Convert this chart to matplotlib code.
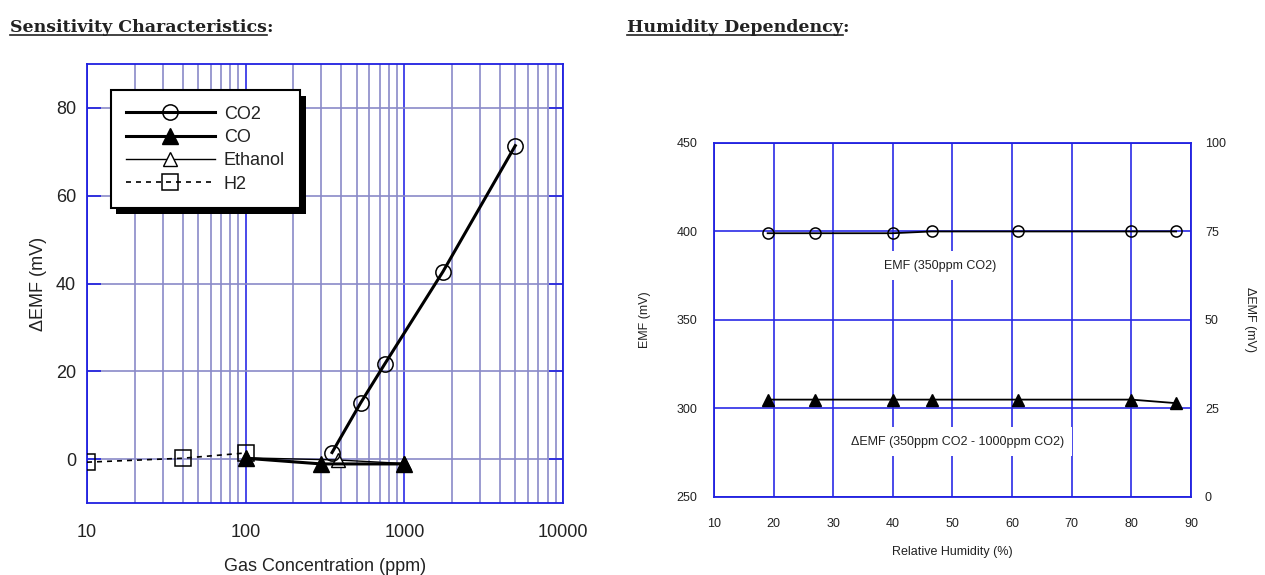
import matplotlib
matplotlib.use("Agg")
import matplotlib.pyplot as plt
import matplotlib.patheffects as pe
from matplotlib.lines import Line2D
from matplotlib.ticker import LogLocator, NullFormatter, FixedLocator

plt.rcParams['font.family'] = ['Liberation Sans', 'DejaVu Sans']

# Data
# ---------------------------------------------------------------
# Sensitivity characteristics (gas concentration in ppm, dEMF in mV)
co2_ppm = [350, 530, 750, 1750, 5000]
co2_emf = [1.5, 12.8, 21.6, 42.7, 71.4]
co_ppm = [100, 300, 1000]
co_emf = [0.2, -1.1, -1.1]
eth_ppm = [100, 380, 1000]
eth_emf = [0.3, -0.2, -1.0]
h2_ppm = [10, 40, 100]
h2_emf = [-0.7, 0.2, 1.4]

# Humidity dependency
rh = [19, 27, 40, 46.5, 61, 80, 87.5]
emf_350 = [399, 399, 399, 400, 400, 400, 400]
d_emf = [27.5, 27.5, 27.5, 27.5, 27.5, 27.5, 26.5]

left_yticks = [0, 20, 40, 60, 80]
left_xticks = [10, 100, 1000, 10000]
right_xticks = [10, 20, 30, 40, 50, 60, 70, 80, 90]
right_yticks = [250, 300, 350, 400, 450]
right_y2ticks = [0, 25, 50, 75, 100]

# Colours
frame_blue = '#2020e0'
grid_blue = '#2a2ae6'
grid_purple = '#8a8ac8'
txt = '#222222'

fig = plt.figure(figsize=(12.65, 5.75), dpi=100)

# Left chart: sensitivity characteristics
# ---------------------------------------------------------------
ax = fig.add_axes([0.0688, 0.1252, 0.3763, 0.7635])
ax.set_xscale('log')
ax.set_xlim(10, 10000)
ax.set_ylim(-10, 90)

ax.xaxis.set_major_locator(FixedLocator(left_xticks))
ax.xaxis.set_minor_locator(LogLocator(base=10, subs=range(2, 10)))
ax.xaxis.set_minor_formatter(NullFormatter())
ax.set_xticks(left_xticks)
ax.set_xticklabels([str(v) for v in left_xticks])
ax.set_yticks(left_yticks)
ax.set_yticklabels([str(v) for v in left_yticks])

ax.grid(True, which='major', axis='x', color=grid_blue, lw=1.2, zorder=0)
ax.grid(True, which='minor', axis='x', color=grid_purple, lw=1.2, zorder=0)
ax.grid(True, which='major', axis='y', color=grid_purple, lw=1.2, zorder=0)
ax.set_axisbelow(True)

ax.tick_params(axis='x', which='both', length=0, pad=15, labelsize=13, colors=txt)
ax.tick_params(axis='y', which='major', direction='in', length=10, width=1.2,
               color=frame_blue, left=True, right=True, labelsize=13,
               labelcolor=txt, pad=8)
for s in ax.spines.values():
    s.set_color(frame_blue)
    s.set_linewidth(1.3)

ax.plot(h2_ppm, h2_emf, color='k', lw=1.2, ls=(0, (3, 3)), marker='s', ms=11,
        mfc='none', mec='k', mew=1.1, label='H2', zorder=3)
ax.plot(eth_ppm, eth_emf, color='k', lw=1.0, marker='^', ms=10,
        mfc='white', mec='k', mew=1.0, label='Ethanol', zorder=3)
ax.plot(co_ppm, co_emf, color='k', lw=2.2, marker='^', ms=11,
        mfc='k', mec='k', label='CO', zorder=4)
ax.plot(co2_ppm, co2_emf, color='k', lw=2.2, marker='o', ms=11,
        mfc='none', mec='k', mew=1.1, label='CO2', zorder=5)

ax.set_xlabel('Gas Concentration (ppm)', fontsize=13, color=txt, labelpad=12)
ax.set_ylabel('\u0394EMF (mV)', fontsize=13, color=txt, labelpad=6)

handles, labels = ax.get_legend_handles_labels()
order = [3, 2, 1, 0]
leg = ax.legend([handles[i] for i in order], [labels[i] for i in order],
                loc='upper left', bbox_to_anchor=(0.05, 0.94), borderaxespad=0,
                fontsize=13, handlelength=4.9, handletextpad=0.5,
                labelspacing=0.35, borderpad=0.85, fancybox=False,
                framealpha=1, edgecolor='k')
leg.get_frame().set_linewidth(1.5)
leg.get_frame().set_path_effects([
    pe.SimplePatchShadow(offset=(4, -4), shadow_rgbFace='k', alpha=1),
    pe.Normal()])
for t in leg.get_texts():
    t.set_color(txt)

# Right chart: humidity dependency
# ---------------------------------------------------------------
ax2 = fig.add_axes([0.5644, 0.1357, 0.3771, 0.6157])
ax2.set_xlim(10, 90)
ax2.set_ylim(250, 450)
ax2.set_xticks(right_xticks)
ax2.set_yticks(right_yticks)
ax2.grid(True, color=grid_blue, lw=1.2, zorder=0)
ax2.set_axisbelow(True)
ax2.tick_params(length=0, labelsize=9, colors=txt)
ax2.tick_params(axis='x', pad=15)
ax2.tick_params(axis='y', pad=12)
for s in ax2.spines.values():
    s.set_color(frame_blue)
    s.set_linewidth(1.3)

ax2.plot(rh, emf_350, color='k', lw=1.3, marker='o', ms=8, mfc='none',
         mec='k', mew=1.1, zorder=4)
ax2.set_xlabel('Relative Humidity (%)', fontsize=9, color=txt, labelpad=12)
ax2.set_ylabel('EMF (mV)', fontsize=9, color=txt, labelpad=18)

ax3 = ax2.twinx()
ax3.set_ylim(0, 100)
ax3.set_yticks(right_y2ticks)
ax3.tick_params(length=0, labelsize=9, colors=txt, pad=10)
for s in ax3.spines.values():
    s.set_visible(False)
ax3.plot(rh, d_emf, color='k', lw=1.3, marker='^', ms=8, mfc='k', mec='k', zorder=4)
ax3.set_ylabel('\u0394EMF (mV)', fontsize=9, color=txt, rotation=270,
               labelpad=22)

ax2.text(47.9, 380.7, 'EMF (350ppm CO2)', fontsize=9, color=txt,
         ha='center', va='center', zorder=3,
         bbox=dict(facecolor='white', edgecolor='none', pad=6))
ax2.text(50.8, 281.2, '\u0394EMF (350ppm CO2 - 1000ppm CO2)', fontsize=9,
         color=txt, ha='center', va='center', zorder=3,
         bbox=dict(facecolor='white', edgecolor='none', pad=6))

# Section titles (underlined)
# ---------------------------------------------------------------
titles = [(10 / 1265, 'Sensitivity Characteristics'),
          (627 / 1265, 'Humidity Dependency')]
title_objs = []
for x, s in titles:
    t = fig.text(x, 1 - 28 / 575, s, fontsize=12.5, fontweight='bold',
                 family='DejaVu Serif', color=txt, va='center', ha='left')
    title_objs.append(t)

fig.canvas.draw()
r = fig.canvas.get_renderer()
for t in title_objs:
    bb = t.get_window_extent(r)
    fig.text(bb.x1 / fig.bbox.width, 1 - 28 / 575, ':', fontsize=12.5,
             fontweight='bold', family='DejaVu Serif', color=txt,
             va='center', ha='left')
    y = (bb.y0 + 2) / fig.bbox.height
    fig.add_artist(Line2D([bb.x0 / fig.bbox.width, bb.x1 / fig.bbox.width], [y, y],
                          transform=fig.transFigure, color=txt, lw=1.2))

fig.savefig('out.png', dpi=100)
